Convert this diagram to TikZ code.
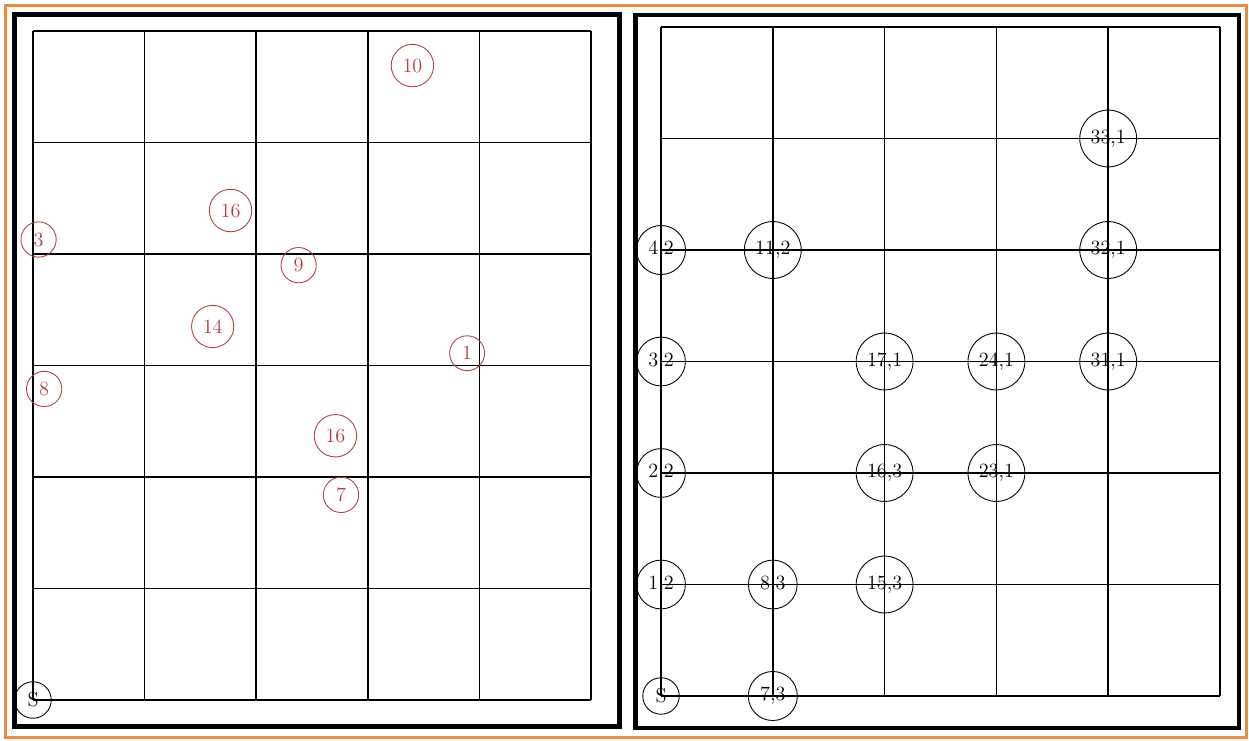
\documentclass[tikz,border=0pt]{standalone}
\usepackage{tikz}
\definecolor{framecol}{RGB}{234,140,66}
\definecolor{pinred}{RGB}{180,62,64}

\begin{document}
\begin{tikzpicture}[
  font=\fontsize{11.5}{14}\selectfont,
  panel/.style={draw, line width=2.3pt},
  gridline/.style={line width=0.9pt},
  spot/.style={circle, draw, line width=0.5pt, inner sep=3.7pt},
  redspot/.style={spot, draw=pinred, text=pinred}
]
\useasboundingbox (0,0) rectangle (24.98,14.8);
\draw[framecol, line width=1.7pt] (0.11,0.05) rectangle (24.93,14.69);

% the two panels
\draw[panel] (0.29,0.27) rectangle (12.39,14.51);
\draw[panel] (12.71,0.24) rectangle (24.77,14.50);

% left panel: scattered points
\begin{scope}[shift={(0.66,0.80)}, x=2.232cm, y=2.23cm]
  \foreach \i in {0,...,5} \draw[gridline] (\i,0) -- (\i,6);
  \foreach \j in {0,...,6} \draw[gridline] (0,\j) -- (5,\j);

  \node[spot] (ls) at (0,0) {S};
  \node[redspot] (l10) at (3.40,5.69) {10};
  \node[redspot] (l16a) at (1.77,4.39) {16};
  \node[redspot] (l3) at (0.05,4.13) {3};
  \node[redspot] (l9) at (2.38,3.90) {9};
  \node[redspot] (l14) at (1.61,3.35) {14};
  \node[redspot] (l1) at (3.89,3.11) {1};
  \node[redspot] (l8) at (0.10,2.79) {8};
  \node[redspot] (l16b) at (2.71,2.37) {16};
  \node[redspot] (l7) at (2.76,1.84) {7};
\end{scope}

% right panel: points snapped to grid vertices
\begin{scope}[shift={(13.22,0.88)}, x=2.236cm, y=2.23cm]
  \foreach \i in {0,...,5} \draw[gridline] (\i,0) -- (\i,6);
  \foreach \j in {0,...,6} \draw[gridline] (0,\j) -- (5,\j);

  \node[spot] (rs) at (0,0) {S};
  \node[spot] (r73) at (1,0) {7,3};
  \node[spot] (r12) at (0,1) {1,2};
  \node[spot] (r83) at (1,1) {8,3};
  \node[spot] (r153) at (2,1) {15,3};
  \node[spot] (r22) at (0,2) {2,2};
  \node[spot] (r163) at (2,2) {16,3};
  \node[spot] (r231) at (3,2) {23,1};
  \node[spot] (r32) at (0,3) {3,2};
  \node[spot] (r171) at (2,3) {17,1};
  \node[spot] (r241) at (3,3) {24,1};
  \node[spot] (r311) at (4,3) {31,1};
  \node[spot] (r42) at (0,4) {4,2};
  \node[spot] (r112) at (1,4) {11,2};
  \node[spot] (r321) at (4,4) {32,1};
  \node[spot] (r331) at (4,5) {33,1};
\end{scope}

\end{tikzpicture}
\end{document}
